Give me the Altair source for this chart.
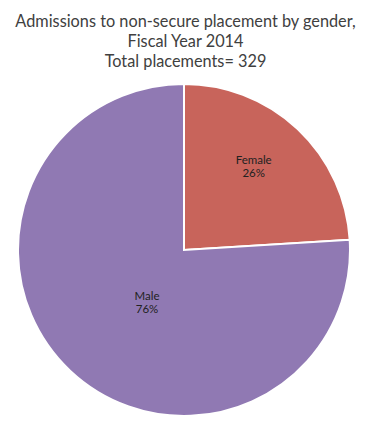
import altair as alt
import pandas as pd

genders = ["Female", "Male"]
counts = [79, 250]
pct_labels = ["26%", "76%"]
colors = ["#C8645B", "#9079B3"]

df = pd.DataFrame({"gender": genders, "count": counts, "pct": pct_labels, "ord": [0, 1]})

cx, cy = 176, 170

arcs = alt.Chart(df).mark_arc(stroke="white", strokeWidth=2, outerRadius=166).encode(
    theta=alt.Theta("count:Q", stack=True),
    order=alt.Order("ord:Q"),
    color=alt.Color("gender:N", scale=alt.Scale(domain=genders, range=colors), legend=None),
    x=alt.value(cx), y=alt.value(cy),
)

labels = alt.Chart(df).transform_joinaggregate(
    total="sum(count)"
).transform_window(
    cum="sum(count)", sort=[alt.SortField("ord")], frame=[None, 0]
).transform_calculate(
    mid="(datum.cum - datum.count / 2) / datum.total * 2 * PI - 0.09",
    lines="[datum.gender, datum.pct]",
    r="datum.gender == 'Female' ? 113 : 60",
).mark_text(font="Lato", fontSize=11.5, color="#222222", align="center", baseline="middle", lineHeight=13).encode(
    text="lines:N",
    theta=alt.Theta("mid:Q", scale=None),
    radius=alt.Radius("r:Q", scale=None),
    x=alt.value(cx), y=alt.value(cy),
)

chart = alt.layer(arcs, labels).properties(
    width=355, height=337,
    autosize=alt.AutoSizeParams(type="none"),
    padding={"left": 0, "top": 72, "right": 0, "bottom": 0},
    title=alt.TitleParams(
        text=["Admissions to non-secure placement by gender,", "Fiscal Year 2014", "Total placements= 329"],
        font="Lato", fontSize=16.3, fontWeight="normal", color="#404040",
        anchor="middle", lineHeight=20, offset=10,
    ),
).configure_view(stroke=None)

chart.save("out.html", embed_options={"renderer": "svg", "actions": False})
